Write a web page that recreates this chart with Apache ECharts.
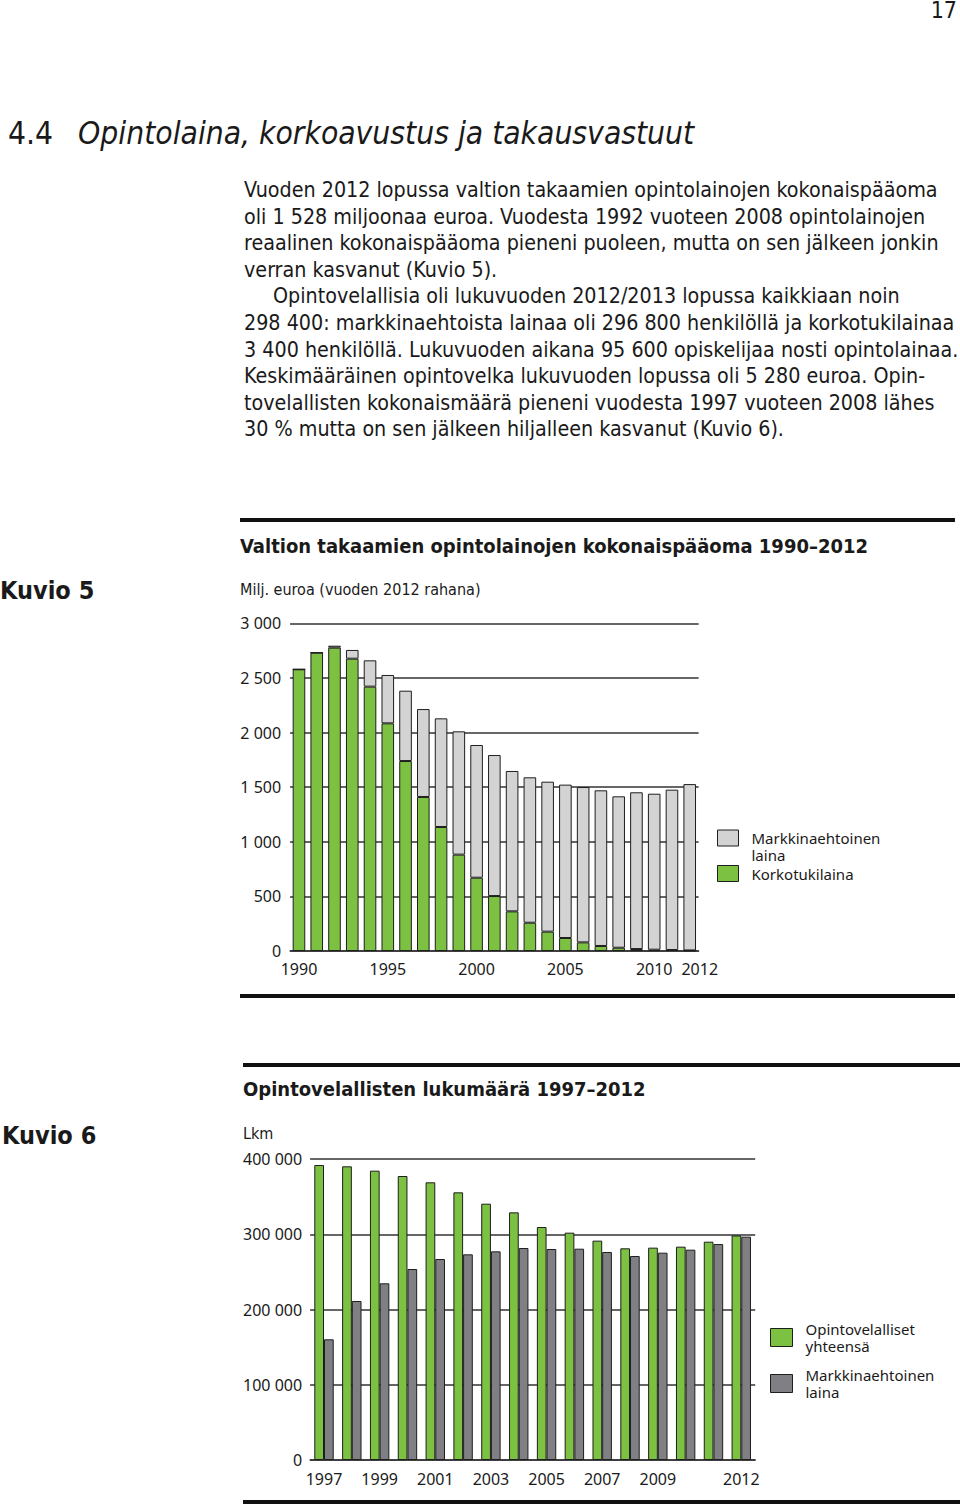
<!DOCTYPE html>
<html>
<head>
<meta charset="utf-8">
<script src="https://cdn.jsdelivr.net/npm/echarts@6/dist/echarts.min.js"></script>
<style>
html,body{margin:0;padding:0;background:#fff;}
body{width:960px;height:1505px;position:relative;overflow:hidden;
  font-family:"Liberation Sans Narrow","Arial Narrow","DejaVu Sans Condensed",sans-serif;color:#1a1a1a;}
.abs{position:absolute;white-space:nowrap;}
#pageno{right:3px;top:-1px;font-size:23px;line-height:23px;}
#heading{left:8px;top:115px;font-size:31.5px;line-height:36px;}
#heading i{margin-left:25px;}
#body{left:244px;top:177px;font-size:21.3px;line-height:26.6px;}
#body .ind{padding-left:29px;}
#chart1{position:absolute;left:0;top:500px;width:960px;height:520px;}
#chart2{position:absolute;left:0;top:1040px;width:960px;height:465px;}
</style>
</head>
<body>
<div id="pageno" class="abs">17</div>
<div id="heading" class="abs">4.4<i>Opintolaina, korkoavustus ja takausvastuut</i></div>
<div id="body" class="abs">
<div>Vuoden 2012 lopussa valtion takaamien opintolainojen kokonaispääoma</div>
<div>oli 1 528 miljoonaa euroa. Vuodesta 1992 vuoteen 2008 opintolainojen</div>
<div>reaalinen kokonaispääoma pieneni puoleen, mutta on sen jälkeen jonkin</div>
<div>verran kasvanut (Kuvio 5).</div>
<div class="ind">Opintovelallisia oli lukuvuoden 2012/2013 lopussa kaikkiaan noin</div>
<div>298 400: markkinaehtoista lainaa oli 296 800 henkilöllä ja korkotukilainaa</div>
<div>3 400 henkilöllä. Lukuvuoden aikana 95 600 opiskelijaa nosti opintolainaa.</div>
<div>Keskimääräinen opintovelka lukuvuoden lopussa oli 5 280 euroa. Opin-</div>
<div>tovelallisten kokonaismäärä pieneni vuodesta 1997 vuoteen 2008 lähes</div>
<div>30 % mutta on sen jälkeen hiljalleen kasvanut (Kuvio 6).</div>
</div>
<div id="chart1"></div>
<div id="chart2"></div>
<script>
// ---- Kuvio 5 data (milj. euroa) ----
const years1 = ['1990','1991','1992','1993','1994','1995','1996','1997','1998','1999','2000','2001','2002','2003','2004','2005','2006','2007','2008','2009','2010','2011','2012'];
const korkotukilaina = [2579,2731,2777,2676,2420,2084,1739,1410,1135,882,671,503,363,259,177,119,79,46,30,18,12,9,5];
const markkinaehtoinen1 = [0,0,18,80,241,443,644,805,995,1129,1215,1291,1285,1331,1373,1404,1422,1425,1386,1435,1428,1468,1523];
const xTicks1 = ['1990','1995','2000','2005','2010','2012'];

// ---- Kuvio 6 data (lkm) ----
const years2 = ['1997','1998','1999','2000','2001','2002','2003','2004','2005','2006','2007','2008','2009','2010','2011','2012'];
const yhteensa = [392000,390300,384500,377400,369000,355700,340600,329100,309600,302100,291500,281300,282200,283500,290100,298400];
const markkinaehtoinen2 = [160400,211300,234800,253800,267100,273300,277300,281700,280400,280800,276400,271100,275500,279500,287000,296800];
const xTicks2 = ['1997','1999','2001','2003','2005','2007','2009','2012'];

const FONT_C = '"Liberation Sans Narrow","Arial Narrow","DejaVu Sans Condensed",sans-serif';
const FONT_T = '"Noto Sans",sans-serif';
const INK = '#1a1a1a';
const GREEN = '#7cc142', LIGHT = '#d3d3d3', DARK = '#808084', EDGE = '#1e1e1e', GRIDC = '#333333';
const fmt = v => String(v).replace(/\B(?=(\d{3})+(?!\d))/g, ' ');
const twoLine = n => n.replace(' ', '\n');

const tickStyle = {fontFamily: FONT_T, fontSize: 16, color: INK};
const legendText = {fontFamily: FONT_T, fontSize: 15, lineHeight: 17, color: INK, padding: [0, 0, 0, 8]};

// ---------- Chart 1 ----------
const c1 = echarts.init(document.getElementById('chart1'), null, {renderer: 'svg'});
c1.setOption({
  animation: false,
  title: [
    {text: 'Valtion takaamien opintolainojen kokonaispääoma 1990–2012', left: 240, top: 36, padding: 0,
     textStyle: {fontFamily: FONT_C, fontSize: 20, fontWeight: 'bold', color: INK}},
    {text: 'Kuvio 5', left: 0, top: 78, padding: 0,
     textStyle: {fontFamily: FONT_C, fontSize: 25, fontWeight: 'bold', color: INK}},
    {text: 'Milj. euroa (vuoden 2012 rahana)', left: 240, top: 81, padding: 0,
     textStyle: {fontFamily: FONT_C, fontSize: 16, fontWeight: 'normal', color: INK}}
  ],
  graphic: [
    {type: 'rect', shape: {x: 240, y: 18, width: 715, height: 4}, style: {fill: '#111'}},
    {type: 'rect', shape: {x: 240, y: 494, width: 715, height: 4}, style: {fill: '#111'}}
  ],
  legend: [
    {left: 717, top: 312.5, padding: 0, orient: 'vertical', itemWidth: 21, itemHeight: 16, selectedMode: false,
     icon: 'rect',
     data: ['Markkinaehtoinen laina'],
     formatter: n => '\n' + twoLine(n),
     itemStyle: {borderColor: EDGE, borderWidth: 1},
     textStyle: legendText},
    {left: 717, top: 365, padding: 0, orient: 'vertical', itemWidth: 21, itemHeight: 16, selectedMode: false,
     icon: 'rect',
     data: ['Korkotukilaina'],
     itemStyle: {borderColor: EDGE, borderWidth: 1},
     textStyle: legendText}
  ],
  grid: {left: 290.1, right: 261.4, top: 123.3, bottom: 69},
  xAxis: {
    type: 'category', data: years1,
    axisLine: {show: true, lineStyle: {color: GRIDC, width: 1.5}},
    axisTick: {show: false},
    axisLabel: Object.assign({}, tickStyle, {
      margin: 10,
      interval: (i, v) => xTicks1.includes(v),
      formatter: v => (v === '2012' ? '{s|' + v + '}' : v),
      rich: {s: Object.assign({}, tickStyle, {padding: [0, 0, 0, 20]})}
    })
  },
  yAxis: {
    type: 'value', min: 0, max: 3000, interval: 500,
    axisLine: {show: false}, axisTick: {show: false},
    splitLine: {lineStyle: {color: GRIDC, width: 1.5}},
    axisLabel: Object.assign({}, tickStyle, {margin: 9, formatter: fmt})
  },
  series: [
    {name: 'Korkotukilaina', type: 'bar', stack: 'total', data: korkotukilaina, barWidth: 12.6,
     itemStyle: {color: GREEN, borderColor: EDGE, borderWidth: 1}},
    {name: 'Markkinaehtoinen laina', type: 'bar', stack: 'total', data: markkinaehtoinen1, barWidth: 12.6,
     itemStyle: {color: LIGHT, borderColor: EDGE, borderWidth: 1}}
  ]
});

// ---------- Chart 2 ----------
const c2 = echarts.init(document.getElementById('chart2'), null, {renderer: 'svg'});
c2.setOption({
  animation: false,
  title: [
    {text: 'Opintovelallisten lukumäärä 1997–2012', left: 243, top: 39, padding: 0,
     textStyle: {fontFamily: FONT_C, fontSize: 20, fontWeight: 'bold', color: INK}},
    {text: 'Kuvio 6', left: 2, top: 83, padding: 0,
     textStyle: {fontFamily: FONT_C, fontSize: 25, fontWeight: 'bold', color: INK}},
    {text: 'Lkm', left: 243, top: 85, padding: 0,
     textStyle: {fontFamily: FONT_C, fontSize: 16, fontWeight: 'normal', color: INK}}
  ],
  graphic: [
    {type: 'rect', shape: {x: 243, y: 23, width: 717, height: 4}, style: {fill: '#111'}},
    {type: 'rect', shape: {x: 243, y: 460, width: 717, height: 4}, style: {fill: '#111'}}
  ],
  legend: {
    left: 770, top: 280.5, padding: 0, orient: 'vertical', itemWidth: 22, itemHeight: 18, itemGap: 12,
    selectedMode: false, icon: 'rect',
    data: ['Opintovelalliset yhteensä', 'Markkinaehtoinen laina'],
    formatter: twoLine,
    itemStyle: {borderColor: EDGE, borderWidth: 1},
    textStyle: legendText
  },
  grid: {left: 310.1, right: 204.8, top: 119, bottom: 45},
  xAxis: {
    type: 'category', data: years2,
    axisLine: {show: true, lineStyle: {color: GRIDC, width: 1.5}},
    axisTick: {show: false},
    axisLabel: Object.assign({}, tickStyle, {margin: 11, interval: (i, v) => xTicks2.includes(v)})
  },
  yAxis: {
    type: 'value', min: 0, max: 400000, interval: 100000,
    axisLine: {show: false}, axisTick: {show: false},
    splitLine: {lineStyle: {color: GRIDC, width: 1.5}},
    axisLabel: Object.assign({}, tickStyle, {margin: 8, formatter: fmt})
  },
  series: [
    {name: 'Opintovelalliset yhteensä', type: 'bar', data: yhteensa, barWidth: 9.7, barGap: '0%',
     itemStyle: {color: GREEN, borderColor: EDGE, borderWidth: 1}},
    {name: 'Markkinaehtoinen laina', type: 'bar', data: markkinaehtoinen2, barWidth: 9.7, barGap: '0%',
     itemStyle: {color: DARK, borderColor: EDGE, borderWidth: 1}}
  ]
});
</script>
</body>
</html>
